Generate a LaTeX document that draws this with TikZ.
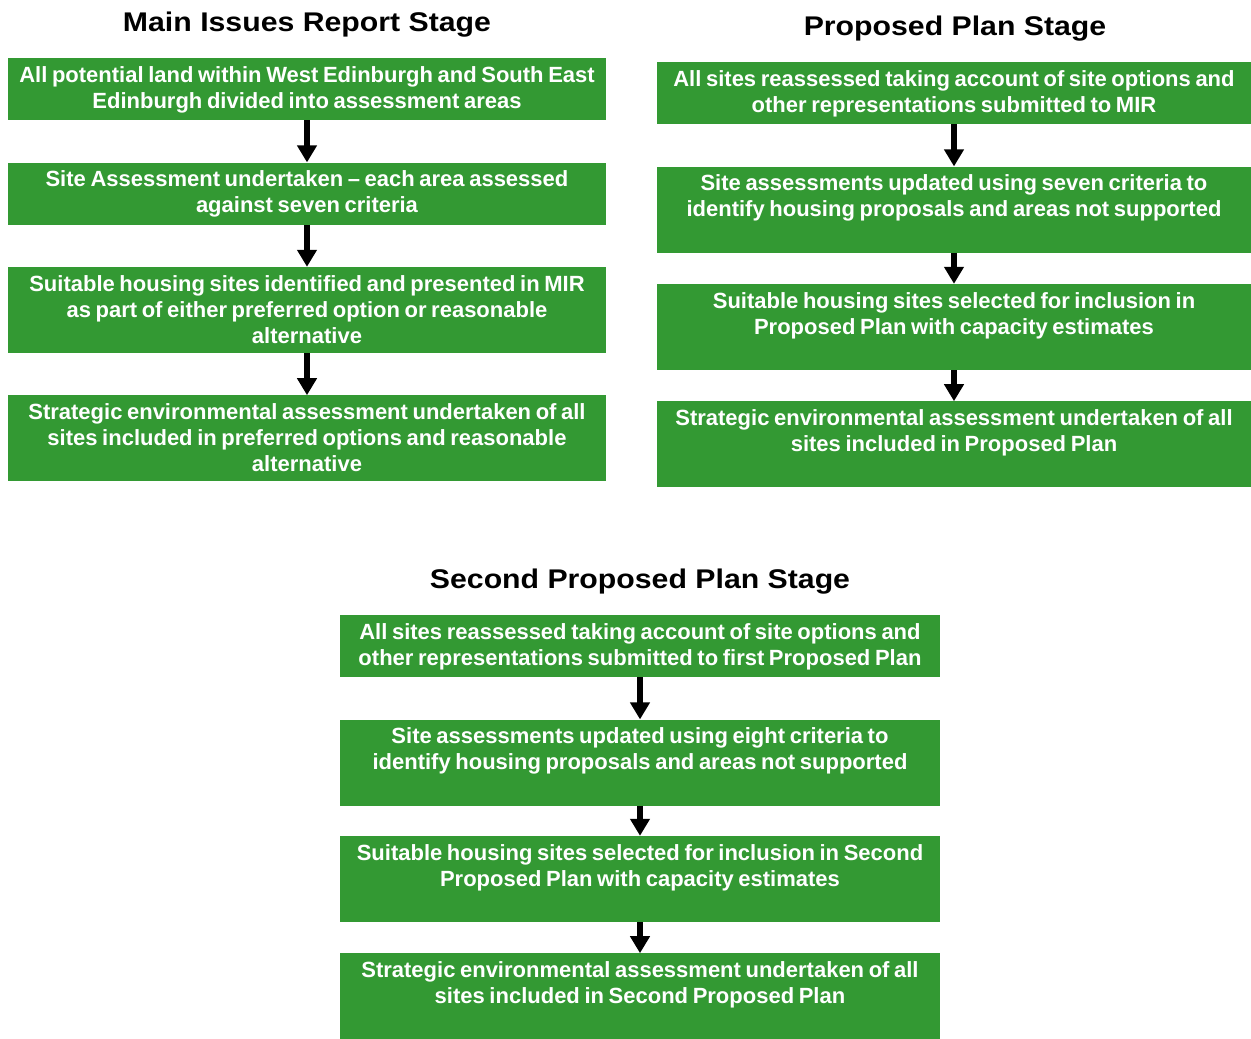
\documentclass[tikz,border=0pt]{standalone}
\usepackage{fontspec}
\setmainfont{Liberation Sans}
\newfontfamily\titlefont[FakeStretch=1.12]{Liberation Sans}
\usetikzlibrary{positioning,arrows.meta}
\definecolor{stagegreen}{HTML}{339933}

\begin{document}
\begin{tikzpicture}[
        x=1pt, y=-1pt,
        node distance=42pt,
        title/.style={font=\titlefont\fontsize{27}{30}\selectfont\bfseries, anchor=base, inner sep=0pt},
        box/.style={fill=stagegreen, text=white, align=center, inner sep=4pt,
            font=\fontsize{22}{26}\selectfont\bfseries,
            execute at begin node=\setlength{\spaceskip}{4.6pt},
            text height=20pt, text depth=34pt},
        tallbox/.style={box, text depth=58pt},
        leftbox/.style={text width=590pt},
        rightbox/.style={text width=586pt},
        lowbox/.style={text width=592pt},
        arrow/.style={-{Triangle[width=19pt,length=17pt]}, line width=5.5pt}
    ]
    \useasboundingbox (0,0) rectangle (1251,1039);

    % --- Main Issues Report Stage ---
    \node[title] (mirtitle) at (307,31) {Main Issues Report Stage};
    \node[box, leftbox, anchor=north] (mir1) at (307,58) {All potential land within West Edinburgh and South East\\Edinburgh divided into assessment areas};
    \node[box, leftbox, below=of mir1] (mir2) {Site Assessment undertaken -- each area assessed\\against seven criteria};
    \node[tallbox, leftbox, below=of mir2] (mir3) {Suitable housing sites identified and presented in MIR\\as part of either preferred option or reasonable\\alternative};
    \node[tallbox, leftbox, below=of mir3] (mir4) {Strategic environmental assessment undertaken of all\\sites included in preferred options and reasonable\\alternative};

    % --- Proposed Plan Stage ---
    \node[title] (pptitle) at (955,35) {Proposed Plan Stage};
    \node[box, rightbox, anchor=north] (pp1) at (954,62) {All sites reassessed taking account of site options and\\other representations submitted to MIR};
    \node[tallbox, rightbox, below=of pp1] (pp2) {Site assessments updated using seven criteria to\\identify housing proposals and areas not supported};
    \node[tallbox, rightbox, below=31pt of pp2] (pp3) {Suitable housing sites selected for inclusion in\\Proposed Plan with capacity estimates};
    \node[tallbox, rightbox, below=31pt of pp3] (pp4) {Strategic environmental assessment undertaken of all\\sites included in Proposed Plan};

    % --- Second Proposed Plan Stage ---
    \node[title] (spptitle) at (640,588) {Second Proposed Plan Stage};
    \node[box, lowbox, anchor=north] (spp1) at (640,615) {All sites reassessed taking account of site options and\\other representations submitted to first Proposed Plan};
    \node[tallbox, lowbox, below=of spp1] (spp2) {Site assessments updated using eight criteria to\\identify housing proposals and areas not supported};
    \node[tallbox, lowbox, below=30pt of spp2] (spp3) {Suitable housing sites selected for inclusion in Second\\Proposed Plan with capacity estimates};
    \node[tallbox, lowbox, below=31pt of spp3] (spp4) {Strategic environmental assessment undertaken of all\\sites included in Second Proposed Plan};

    % --- Connections ---
    \draw[arrow] (mir1) -- (mir2);
    \draw[arrow] (mir2) -- (mir3);
    \draw[arrow] (mir3) -- (mir4);

    \draw[arrow] (pp1) -- (pp2);
    \draw[arrow] (pp2) -- (pp3);
    \draw[arrow] (pp3) -- (pp4);

    \draw[arrow] (spp1) -- (spp2);
    \draw[arrow] (spp2) -- (spp3);
    \draw[arrow] (spp3) -- (spp4);

\end{tikzpicture}
\end{document}
